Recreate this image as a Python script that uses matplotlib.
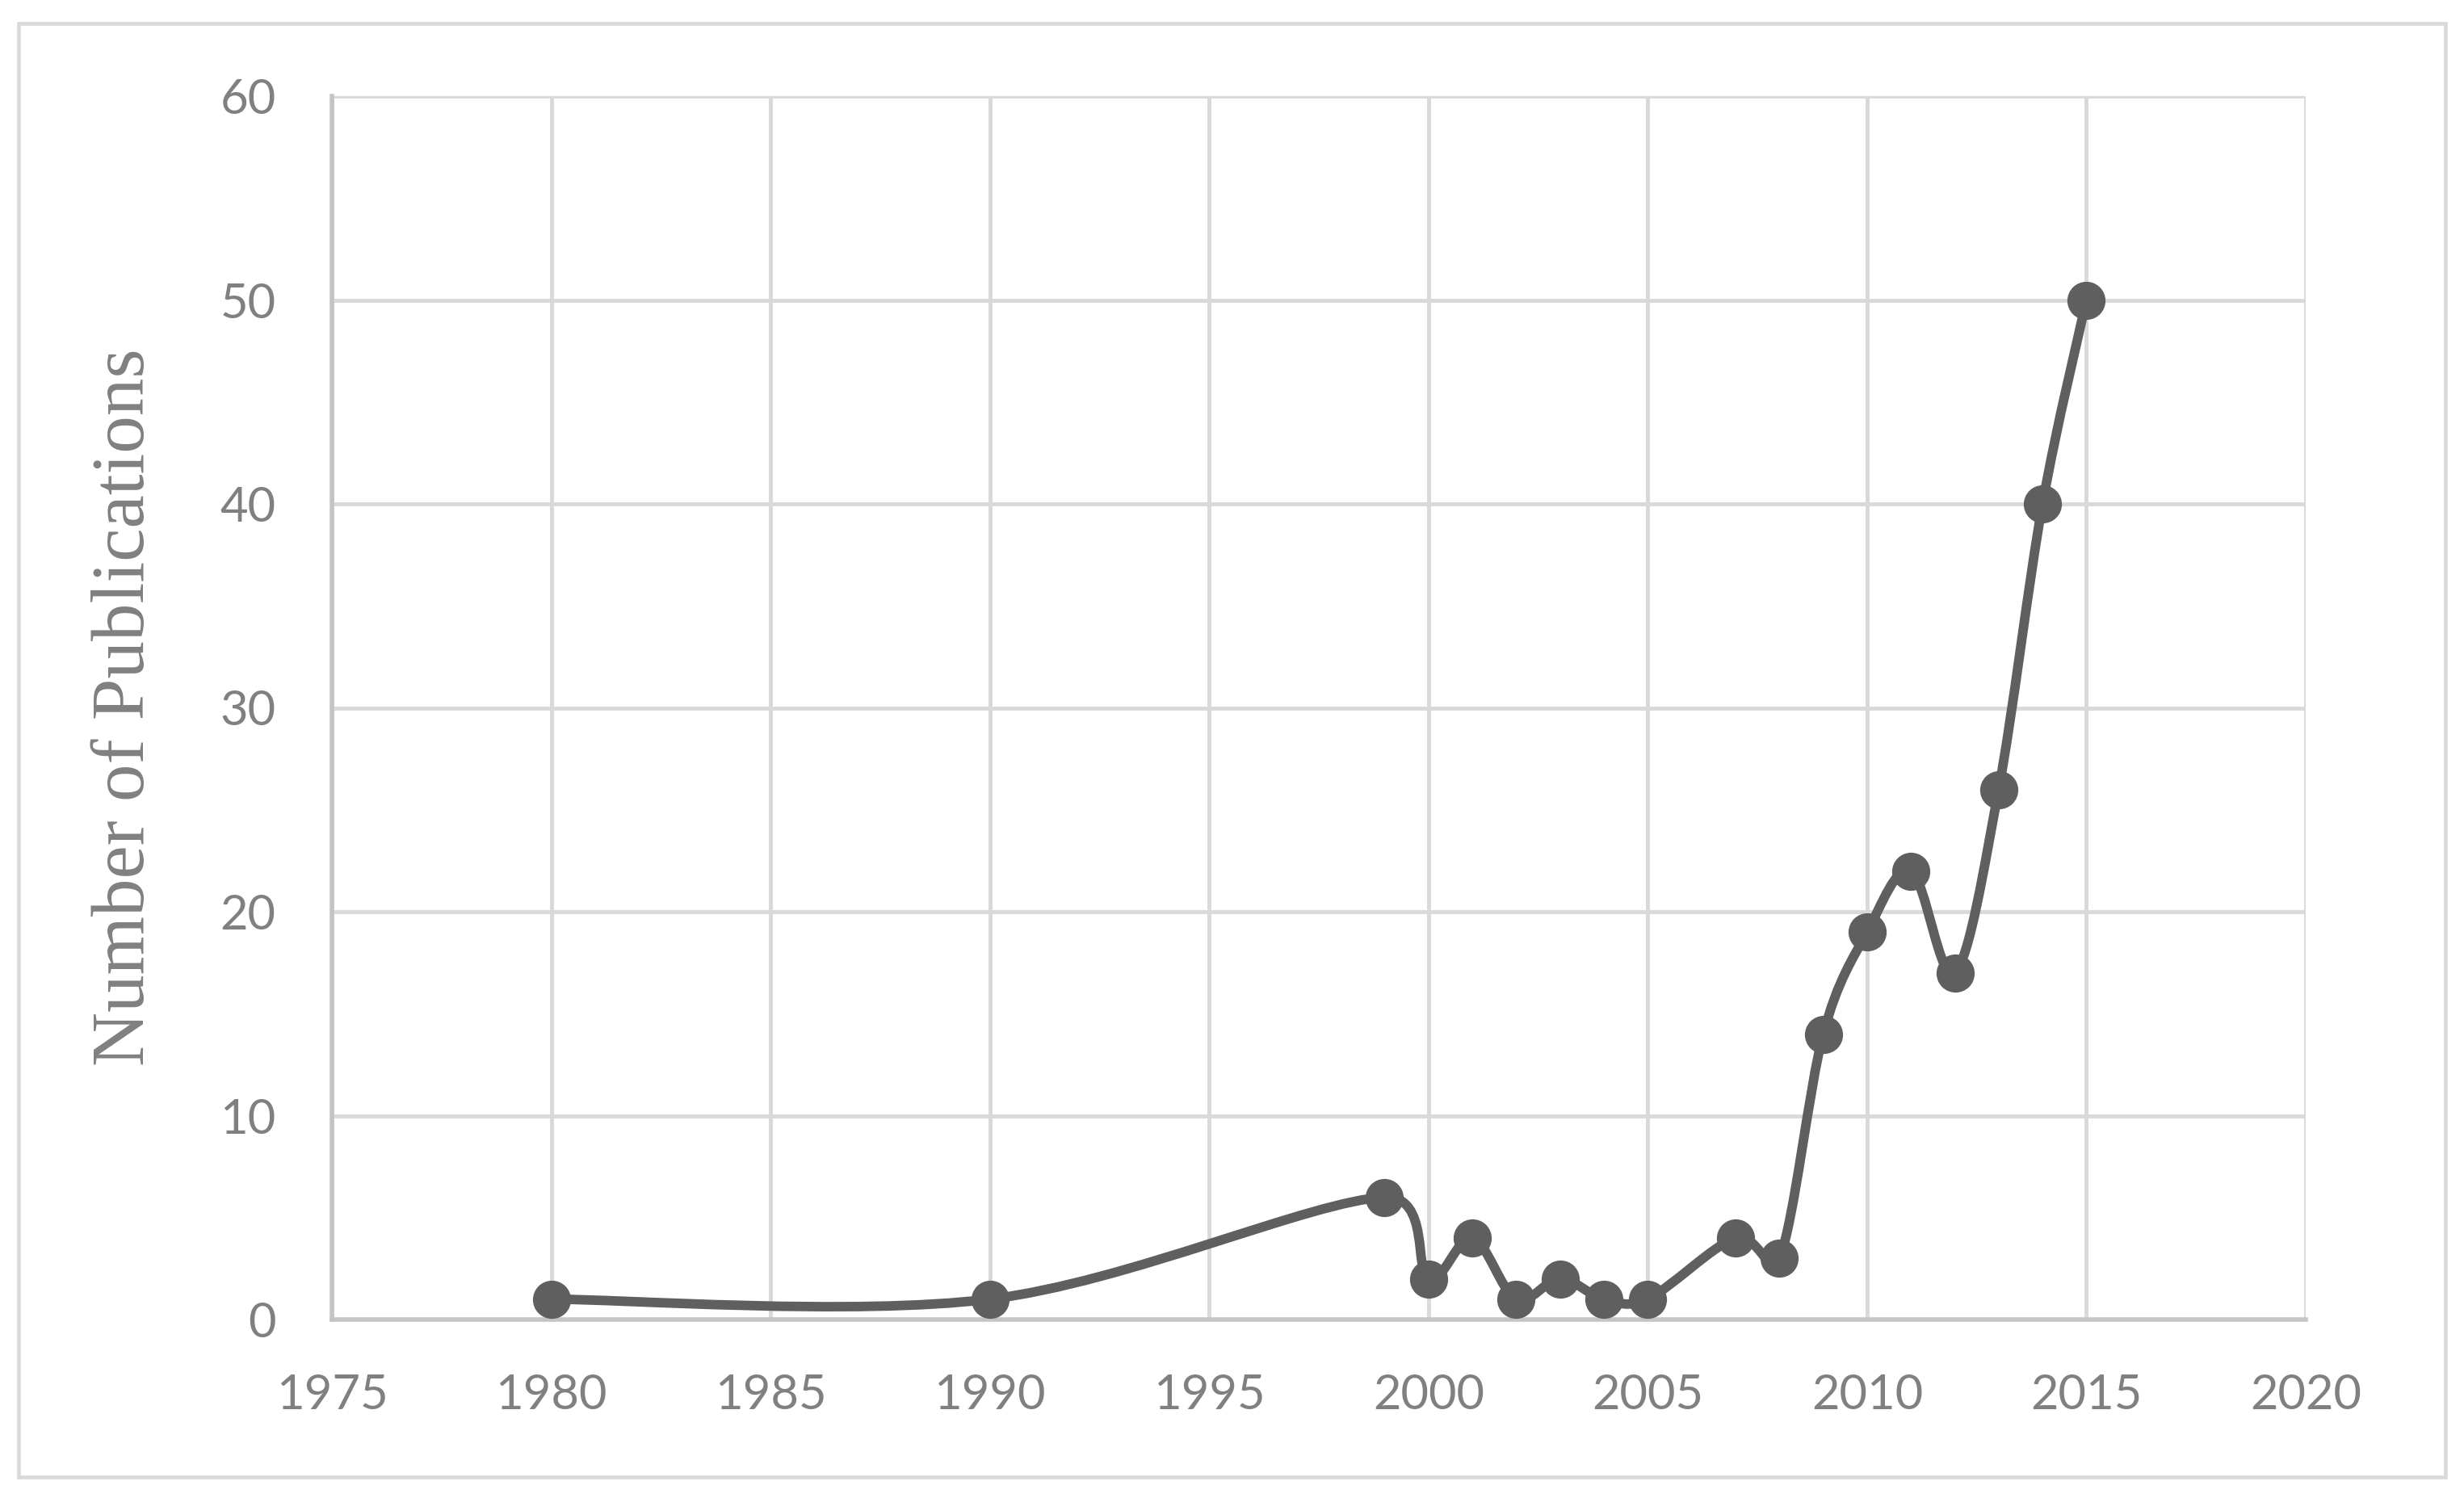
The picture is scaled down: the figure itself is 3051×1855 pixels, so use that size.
import numpy as np
import matplotlib.pyplot as plt
from matplotlib.path import Path
from matplotlib.patches import PathPatch, Rectangle

years = [1980, 1990, 1999, 2000, 2001, 2002, 2003, 2004, 2005,
         2007, 2008, 2009, 2010, 2011, 2012, 2013, 2014, 2015]
counts = [1, 1, 6, 2, 4, 1, 2, 1, 1, 4, 3, 14, 19, 22, 17, 26, 40, 50]

x_ticks = list(range(1975, 2021, 5))
y_ticks = list(range(0, 61, 10))

LINE_COLOR = "#5f5f5f"
GRID_COLOR = "#d9d9d9"
AXIS_COLOR = "#c4c4c4"
TEXT_COLOR = "#808080"

# plot area in pixels (figure is 3051 x 1855)
AX_LEFT, AX_RIGHT, AX_TOP, AX_BOTTOM = 411, 2855, 119, 1634
XMIN, XMAX, YMIN, YMAX = 1975, 2020, 0, 60


def excel_smooth_path(x, y):
    # Excel-like smoothed line: cubic bezier, control points from the
    # neighbours (1/6 tension), capped at half the segment length.
    # Work in pixel space so the cap behaves like on screen.
    sx = (AX_RIGHT - AX_LEFT) / (XMAX - XMIN)
    sy = (AX_BOTTOM - AX_TOP) / (YMAX - YMIN)
    scale = np.array([sx, sy])
    pts = np.column_stack([x, y]).astype(float) * scale
    n = len(pts)

    def ctrl(vec, seg_len):
        length = np.hypot(*vec)
        if length / 6.0 > seg_len / 2.0:
            return vec * (seg_len / 2.0) / length
        return vec / 6.0

    verts = [pts[0]]
    codes = [Path.MOVETO]
    for i in range(n - 1):
        p_prev = pts[i - 1] if i > 0 else pts[i]
        p0 = pts[i]
        p1 = pts[i + 1]
        p_next = pts[i + 2] if i + 2 < n else pts[i + 1]
        seg = np.hypot(*(p1 - p0))
        c1 = p0 + ctrl(p1 - p_prev, seg)
        c2 = p1 - ctrl(p_next - p0, seg)
        verts += [c1, c2, p1]
        codes += [Path.CURVE4] * 3
    return Path(np.array(verts) / scale, codes)


fig = plt.figure(figsize=(30.51, 18.55), dpi=100)
ax = fig.add_axes([AX_LEFT / 3051, 1 - AX_BOTTOM / 1855,
                   (AX_RIGHT - AX_LEFT) / 3051, (AX_BOTTOM - AX_TOP) / 1855])

ax.set_xlim(XMIN, XMAX)
ax.set_ylim(YMIN, YMAX)
ax.set_xticks(x_ticks)
ax.set_yticks(y_ticks)

ax.grid(True, color=GRID_COLOR, linewidth=3.5)
ax.set_axisbelow(True)
for side in ["top", "right"]:
    ax.spines[side].set_visible(False)
for side in ["left", "bottom"]:
    ax.spines[side].set_color(AXIS_COLOR)
    ax.spines[side].set_linewidth(4)
    ax.spines[side].set_zorder(1.5)

ax.tick_params(length=0, labelsize=43, labelcolor=TEXT_COLOR)
ax.tick_params(axis="x", pad=48)
ax.tick_params(axis="y", pad=50)
for lab in ax.get_xticklabels() + ax.get_yticklabels():
    lab.set_fontfamily("Lato")

curve = PathPatch(excel_smooth_path(years, counts), facecolor="none",
                  edgecolor=LINE_COLOR, linewidth=8.5, capstyle="round",
                  joinstyle="round", zorder=3)
ax.add_patch(curve)
ax.plot(years, counts, linestyle="none", marker="o", markersize=33,
        color=LINE_COLOR, zorder=4)

fig.text(156 / 3051, 1 - 876 / 1855, "Number of Publications",
         rotation=90, ha="center", va="center", fontsize=67,
         color=TEXT_COLOR, family="Liberation Serif")

# outer chart border
fig.patches.append(Rectangle((23 / 3051, 1 - 1829 / 1855),
                             (3028 - 23) / 3051, (1829 - 29) / 1855,
                             transform=fig.transFigure, fill=False,
                             edgecolor=GRID_COLOR, linewidth=3.3))

fig.savefig("out.png", dpi=100, facecolor="white")
